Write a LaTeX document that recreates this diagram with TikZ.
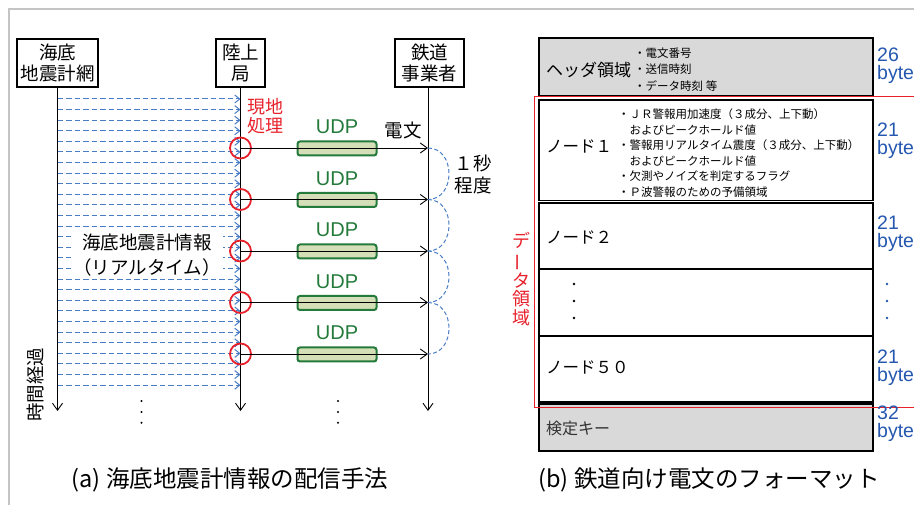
\documentclass[tikz,border=0pt]{standalone}
\usepackage{fontspec}
\setmainfont{Noto Sans CJK JP}
\newfontfamily\lat{Liberation Sans}
\usetikzlibrary{arrows.meta}
\definecolor{dblue}{HTML}{4A7CC4}
\definecolor{ared}{HTML}{E8202A}
\definecolor{udpg}{HTML}{237A3B}
\definecolor{udpf}{HTML}{D4DFB7}
\definecolor{bblue}{HTML}{2457B0}
\definecolor{cellgray}{HTML}{D9D9D9}
\definecolor{framegray}{HTML}{C4C4C4}
\begin{document}
\begin{tikzpicture}[x=1pt,y=-1pt,
  actor/.style={draw, line width=1.3pt, fill=white, minimum height=48pt, inner sep=0pt, align=center, font=\fontsize{18.5}{21}\selectfont},
  life/.style={line width=0.9pt, -{Straight Barb[length=7pt,width=10pt]}},
  datarrow/.style={dblue, line width=1pt, dash pattern=on 5.5pt off 3pt, -{Straight Barb[length=5pt,width=8pt]}},
  msg/.style={line width=0.9pt, -{Straight Barb[length=7pt,width=10pt]}},
  hit/.style={circle, draw=ared, line width=1.8pt, minimum size=21pt, inner sep=0pt},
  udpbar/.style={rectangle, rounded corners=2.5pt, draw=udpg, fill=udpf, line width=2pt, minimum width=79pt, minimum height=14pt, inner sep=0pt},
  udplab/.style={text=udpg, inner sep=0pt, font=\lat\fontsize{20}{24}\selectfont},
  lbl/.style={inner sep=0pt, align=center, font=\fontsize{18.5}{21}\selectfont},
  cell/.style={draw, line width=1.4pt, minimum width=334pt, inner sep=0pt},
  small/.style={inner sep=0pt, align=left, font=\fontsize{11.5}{15.6}\selectfont},
  bytes/.style={anchor=west, inner sep=0pt, align=left, text=bblue, font=\lat\fontsize{19.5}{18}\selectfont},
  caption/.style={inner sep=0pt, font=\fontsize{23.5}{28}\selectfont}
]
\useasboundingbox (0,0) rectangle (914,505);
% frame
\draw[framegray, line width=1.6pt] (9,505) -- (9,9) -- (914,9);

% ---------- (a) ----------
\node[actor, minimum width=81pt] (sea) at (57.5,63) {海底\\地震計網};
\node[actor, minimum width=49pt] (land) at (240.5,63) {陸上\\局};
\node[actor, minimum width=69pt] (rail) at (429.5,63) {鉄道\\事業者};

\coordinate (seaEnd) at (57.5,411);
\coordinate (landEnd) at (240.5,411);
\coordinate (railEnd) at (428,411);

\foreach \i in {0,...,27}{
  \coordinate (s\i) at (57.5,{99+\i*10.6});
  \coordinate (r\i) at (240.5,{99+\i*10.6});
  \draw[datarrow] (s\i) -- (r\i);
}

\draw[life] (sea.south) -- (seaEnd);
\draw[life] (land.south) -- (landEnd);
\draw[life] ([xshift=-1.5pt]rail.south) -- (railEnd);

\node[lbl, fill=white, inner sep=2pt, align=center, font=\fontsize{18.5}{25}\selectfont] (info) at (147,255.5) {海底地震計情報\\（リアルタイム）};

\foreach \i in {1,...,5}{
  \pgfmathsetmacro{\yy}{148+(\i-1)*51.5}
  \node[hit] (c\i) at (240.5,\yy) {};
  \coordinate (t\i) at (428,\yy);
  \node[udpbar] (u\i) at (337,\yy+0.5) {};
  \node[udplab] (ul\i) at (337,\yy-21) {UDP};
  \draw[msg] (c\i.center) -- (t\i);
}
\foreach \i/\j in {1/2,2/3,3/4,4/5}{
  \draw[dblue, line width=1pt, dash pattern=on 4pt off 2.5pt] (t\i) .. controls +(28,0) and +(28,0) .. (t\j);
}

\node[lbl, text=ared, font=\fontsize{18}{19}\selectfont] (proc) at (265,116.5) {現地\\処理};
\node[lbl] (denbun) at (403,130) {電文};
\node[lbl, font=\fontsize{18.5}{21.5}\selectfont] (sec) at (473,174.5) {１秒\\程度};
\node[lbl, rotate=90, font=\fontsize{18.5}{21}\selectfont] (time) at (35.5,384.5) {時間経過};

\foreach \k/\yy in {1/401,2/412,3/422.7}{
  \fill (141.5,\yy) circle (1.1pt);
  \fill (338,\yy) circle (1.1pt);
}

\node[caption] (capa) at (230,480) {(a) 海底地震計情報の配信手法};

% ---------- (b) ----------
\node[cell, fill=cellgray, minimum height=58pt] (hdr) at (706,67) {};
\node[cell, minimum height=100.5pt] (n1) at (706,150.25) {};
\node[cell, minimum height=66pt] (n2) at (706,236) {};
\node[cell, minimum height=67pt] (ndots) at (706,302.5) {};
\node[cell, minimum height=66pt] (n50) at (706,369) {};
\node[cell, fill=cellgray, minimum height=47pt] (key) at (706,427.5) {};

\draw[ared, line width=1pt] (930,97) -- (534,97) -- (534,407) -- (930,407);
\node[lbl, text=ared, font=\fontsize{18}{18.6}\selectfont] (dataarea) at (521,279) {デ\\\rotatebox[origin=c]{90}{ー}\\タ\\領\\域};

\node[lbl, anchor=west, font=\fontsize{17}{20}\selectfont] (hdrt) at (546,70) {ヘッダ領域};
\node[small, anchor=west, font=\fontsize{11.5}{16.5}\selectfont] (hdrb) at (634,69.5) {・電文番号\\・送信時刻\\・データ時刻 等};

\node[lbl, anchor=west, font=\fontsize{16.5}{20}\selectfont] (n1t) at (546,147) {ノード１};
\node[small, anchor=west] (n1b) at (618,153) {・ＪＲ警報用加速度（３成分、上下動）\\\hspace*{1em}およびピークホールド値\\・警報用リアルタイム震度（３成分、上下動）\\\hspace*{1em}およびピークホールド値\\・欠測やノイズを判定するフラグ\\・Ｐ波警報のための予備領域};

\node[lbl, anchor=west, font=\fontsize{16.5}{20}\selectfont] (n2t) at (546,238) {ノード２};
\node[lbl, anchor=west, font=\fontsize{16.5}{20}\selectfont] (n50t) at (546,368) {ノード５０};
\node[lbl, anchor=west, text=black!80, font=\fontsize{16}{20}\selectfont] (keyt) at (546,428) {検定キー};

\foreach \yy in {284,301,318}{
  \fill (574,\yy) circle (1.3pt);
  \fill[bblue] (887,\yy) circle (1.3pt);
}

\node[bytes] (b1) at (877,66) {26\\bytes};
\node[bytes] (b2) at (877,141) {21\\bytes};
\node[bytes] (b3) at (877,234) {21\\bytes};
\node[bytes] (b4) at (877,367.5) {21\\bytes};
\node[bytes] (b5) at (877,424) {32\\bytes};

\node[caption] (capb) at (709,480) {(b) 鉄道向け電文のフォーマット};
\end{tikzpicture}
\end{document}
